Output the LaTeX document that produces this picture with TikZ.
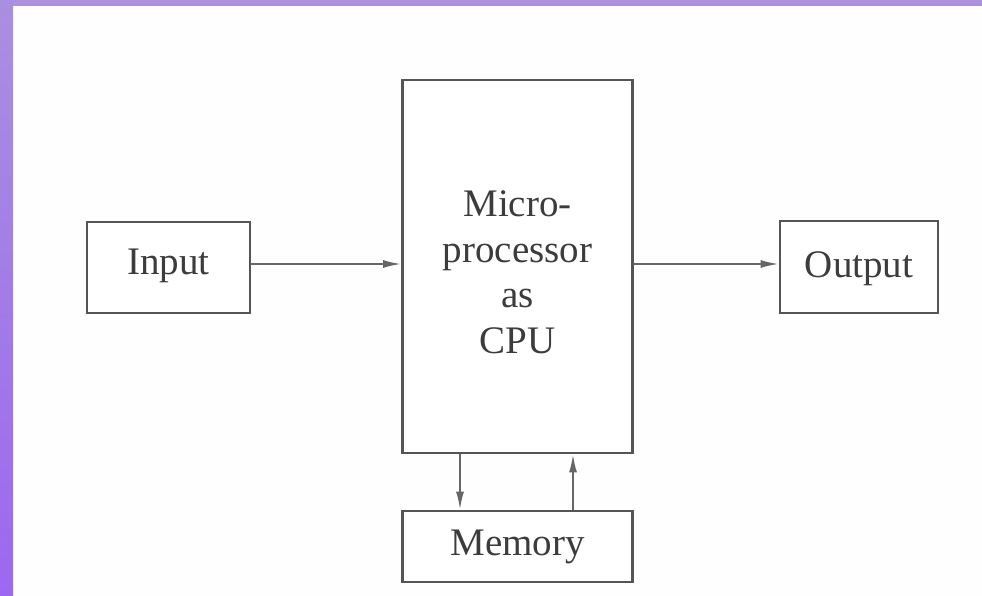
\documentclass[tikz,border=0pt]{standalone}
\usepackage{fontspec}
\setmainfont{Liberation Serif}
\usetikzlibrary{arrows.meta}
\definecolor{edgegray}{HTML}{555555}
\definecolor{wiregray}{HTML}{666666}
\definecolor{inkgray}{HTML}{3C3C3C}
\definecolor{framepurple}{HTML}{AA92DF}
\definecolor{frametop}{HTML}{A98FE0}
\definecolor{framebottom}{HTML}{9C68F0}
\tikzset{
  block/.style={draw=edgegray, line width=2.8pt, fill=white, inner sep=0pt,
    text=inkgray, font=\fontsize{39}{45}\selectfont},
  blocktext/.style={text=inkgray, inner sep=0pt, font=\fontsize{39}{45.5}\selectfont},
  flow/.style={draw=wiregray, line width=1.9pt,
    -{Latex[length=18pt,width=8pt]}},
}
\begin{document}
\begin{tikzpicture}[x=1pt,y=-1pt]
  % page and purple frame
  \useasboundingbox (0,0) rectangle (982,596);
  \fill[white!99.5!black] (0,0) rectangle (982,596);
  \fill[framepurple] (0,0) rectangle (982,6);
  \shade[top color=frametop, bottom color=framebottom] (0,0) rectangle (13,596);

  % blocks (text height/depth place the baseline inside each box)
  \node[block, minimum width=163pt, text height=52pt, text depth=39pt]
    (input) at (168.5,267.5) {Input};
  \node[block, minimum width=158pt, text height=56pt, text depth=36pt]
    (output) at (859,267) {Output};
  \node[block, minimum width=230pt, minimum height=373pt]
    (cpu) at (517.5,266.5) {};
  % the base anchor of this multi-line label sits on its last line
  \node[blocktext, align=center, anchor=base] (cputext) at (517.5,353)
    {Micro-\\processor\\as\\CPU};
  \node[block, minimum width=230pt, text height=44pt, text depth=27pt]
    (memory) at (517.5,546.5) {Memory};

  % data paths
  \draw[flow] (input.east |- 0,264) -- (cpu.west |- 0,264);
  \draw[flow] (cpu.east |- 0,264) -- (output.west |- 0,264);
  \draw[flow] (cpu.south -| 460,0) -- (memory.north -| 460,0);
  \draw[flow] (memory.north -| 573,0) -- (cpu.south -| 573,0);
\end{tikzpicture}
\end{document}
